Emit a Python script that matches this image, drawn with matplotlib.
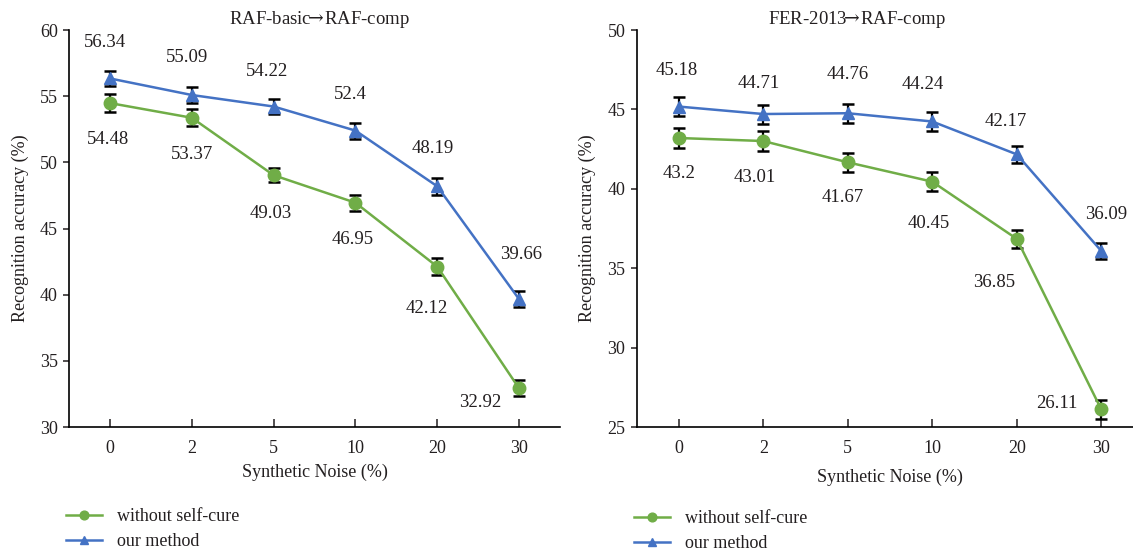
import numpy as np
import matplotlib
matplotlib.use('Agg')
import matplotlib.pyplot as plt

plt.rcParams['font.family'] = ['Liberation Serif', 'DejaVu Serif']
plt.rcParams['mathtext.fontset'] = 'dejavuserif'

# data
noise = ['0', '2', '5', '10', '20', '30']
series_names = ['without self-cure', 'our method']

raf_without = [54.48, 53.37, 49.03, 46.95, 42.12, 32.92]
raf_ours = [56.34, 55.09, 54.22, 52.4, 48.19, 39.66]
raf_err_without = [0.65, 0.65, 0.55, 0.6, 0.65, 0.6]
raf_err_ours = [0.6, 0.6, 0.6, 0.6, 0.65, 0.6]

fer_without = [43.2, 43.01, 41.67, 40.45, 36.85, 26.11]
fer_ours = [45.18, 44.71, 44.76, 44.24, 42.17, 36.09]
fer_err_without = [0.6, 0.6, 0.6, 0.6, 0.55, 0.6]
fer_err_ours = [0.6, 0.6, 0.6, 0.6, 0.55, 0.5]

green = '#70AD47'
blue = '#4472C4'

# label offsets in pixels, (dx, dy) with dy measured downwards (style only)
raf_off_without = [(-2, 36), (0, 37), (-3, 38), (-3, 37), (-10, 42), (-39, 14)]
raf_off_ours = [(-5, -36), (-5, -37), (-7, -35), (-5, -36), (-5, -38), (2, -45)]
fer_off_without = [(0, 35), (-8, 36), (-5, 35), (-4, 42), (-23, 44), (-44, -6)]
fer_off_ours = [(-2, -36), (-4, -31), (0, -39), (-9, -37), (-11, -33), (5, -36)]

arrow = '$\\!\\!\\rightarrow\\!$'

fig = plt.figure(figsize=(11.33, 5.55), dpi=100)
ax1 = fig.add_axes([69 / 1133, 0.2306, 491 / 1133, 0.7153])
ax2 = fig.add_axes([636.5 / 1133, 0.2306, 507 / 1133, 0.7153])


def draw(ax, without, ours, err_w, err_o, off_w, off_o, ylim, title, title_x):
    x = np.arange(len(noise))
    ax.errorbar(x, without, yerr=err_w, fmt='none', ecolor='black',
                elinewidth=1.6, capsize=4.5, capthick=1.8, zorder=2)
    ax.errorbar(x, ours, yerr=err_o, fmt='none', ecolor='black',
                elinewidth=1.6, capsize=4.5, capthick=1.8, zorder=2)
    l1, = ax.plot(x, without, color=green, lw=1.8, marker='o', ms=9,
                  zorder=3, label=series_names[0])
    l2, = ax.plot(x, ours, color=blue, lw=1.8, marker='^', ms=9,
                  zorder=3, label=series_names[1])
    for xi, v, o in zip(x, without, off_w):
        ax.annotate(f'{v:g}', (xi, v), xytext=(o[0], -o[1]), textcoords='offset pixels',
                    ha='center', va='center', fontsize=13.5, color='#231f20')
    for xi, v, o in zip(x, ours, off_o):
        ax.annotate(f'{v:g}', (xi, v), xytext=(o[0], -o[1]), textcoords='offset pixels',
                    ha='center', va='center', fontsize=13.5, color='#231f20')

    ax.set_xlim(-0.5, 5.5)
    ax.set_ylim(*ylim)
    ax.set_yticks(np.arange(ylim[0], ylim[1] + 1, 5))
    ax.set_xticks(x)
    ax.set_xticklabels(noise)
    ax.spines['top'].set_visible(False)
    ax.spines['right'].set_visible(False)
    ax.spines['left'].set_linewidth(1.2)
    ax.spines['bottom'].set_linewidth(1.2)
    ax.tick_params(axis='x', direction='in', length=6, width=1.1,
                   labelsize=13, pad=9, colors='#231f20')
    ax.tick_params(axis='y', direction='out', length=4, width=1.1,
                   labelsize=13, pad=4, colors='#231f20')
    ax.set_ylabel('Recognition accuracy (%)', fontsize=13, color='#231f20')
    ax.set_xlabel('Synthetic Noise (%)', fontsize=13, color='#231f20')
    ax.set_title(title, fontsize=13.5, x=title_x, pad=3, color='#231f20')
    return l1, l2


h = draw(ax1, raf_without, raf_ours, raf_err_without, raf_err_ours,
         raf_off_without, raf_off_ours, (30, 60), 'RAF-basic' + arrow + 'RAF-comp', 0.51)
draw(ax2, fer_without, fer_ours, fer_err_without, fer_err_ours,
     fer_off_without, fer_off_ours, (25, 50), 'FER-2013' + arrow + 'RAF-comp', 0.435)

ax1.xaxis.labelpad = 5
ax2.xaxis.labelpad = 9
ax1.yaxis.labelpad = 8
ax2.yaxis.labelpad = 8

for lx, ly in [(66, 508), (634, 510)]:
    fig.legend(handles=[h[0], h[1]], labels=series_names,
               loc='upper left', bbox_to_anchor=(lx / 1133, 1 - ly / 555),
               frameon=False, fontsize=13, handlelength=2.0, handletextpad=0.8,
               labelspacing=0.45, borderpad=0, borderaxespad=0,
               markerscale=0.7, labelcolor='#231f20')

fig.savefig('out.png', dpi=100)
